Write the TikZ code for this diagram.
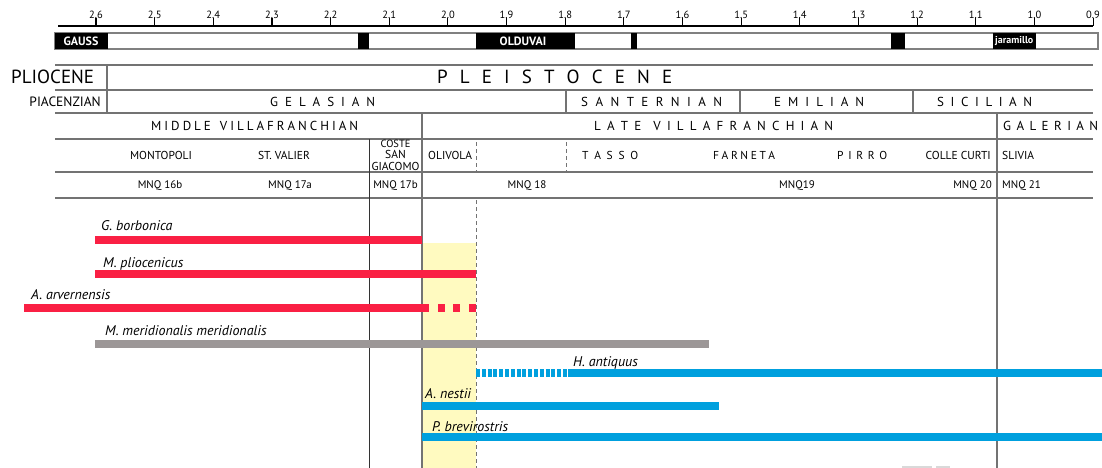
\documentclass[tikz,border=0pt]{standalone}
\usepackage{fontspec}
\setmainfont{PT Sans}
\definecolor{redbar}{RGB}{250,32,68}
\definecolor{bluebar}{RGB}{0,160,222}
\definecolor{greybar}{RGB}{156,151,151}
\definecolor{band}{RGB}{255,250,192}
\definecolor{rulecol}{RGB}{115,115,115}
% letters spread evenly over a fixed width
\newcommand\tracked[2]{\makebox[#1][s]{#2}}
\newcommand\fs[1]{\fontsize{#1}{#1}\selectfont}
\begin{document}
\begin{tikzpicture}[x=1pt,y=-1pt,
  rule/.style={draw=rulecol,line width=1.2pt},
  thinrule/.style={draw=black!80,line width=0.8pt},
  dashrule/.style={draw=rulecol,line width=1pt,dash pattern=on 4pt off 3pt},
  chron/.style={fill=black,draw=none},
  chronlab/.style={text=white,font=\bfseries\fs{12},inner sep=0pt},
  tick/.style={font=\fs{10.5},inner sep=0pt,anchor=south},
  bigcap/.style={font=\fs{19},inner sep=0pt},
  stage/.style={font=\fs{13},inner sep=0pt,anchor=west},
  cell/.style={font=\fs{11.5},inner sep=0pt},
  zone/.style={font=\fs{11},inner sep=0pt},
  bar/.style={line width=7.5pt},
  taxon/.style={font=\itshape\fs{14},inner sep=0pt,anchor=base west}]
\useasboundingbox (0,0) rectangle (1102,468);

% ---- age axis (Ma)
\coordinate (axL) at (58,26);
\coordinate (axR) at (1093,26);
\draw[line width=1.2pt] (axL) -- (axR);
\foreach \i/\lab in {0/2.6,1/2.5,2/2.4,3/2.3,4/2.2,5/2.1,6/2.0,7/1.9,8/1.8,9/1.7,10/1.6,11/1.5,12/1.4,13/1.3,14/1.2,15/1.1,16/1.0,17/0.9}{
  \pgfmathsetmacro\xx{96+58.65*\i}
  \draw[line width=1.1pt] (\xx,26) -- (\xx,18);
  \node[tick] (t\i) at (\xx,19) {\lab};
}

% ---- magnetostratigraphy
\draw[draw=black!50,line width=1.5pt,fill=white] (55,33) rectangle (1098,49);
\fill[chron] (55,33) rectangle (108,49);
\fill[chron] (358,33) rectangle (369,49);
\fill[chron] (476,33) rectangle (575,49);
\fill[chron] (631,33) rectangle (637,49);
\fill[chron] (891,33) rectangle (905,49);
\fill[chron] (993,33) rectangle (1036,49);
\node[chronlab] (gauss) at (81,41) {GAUSS};
\node[chronlab] (olduvai) at (523,41) {OLDUVAI};
\node[chronlab,font=\bfseries\fs{10},anchor=west] (jaramillo) at (995,41) {jaramillo};

% ---- chronostratigraphic table
\foreach \yy in {65,90,113,139,172,198}{
  \draw[rule] (55,\yy) -- (1093,\yy);
}
\draw[rule] (107,65) -- (107,113);
\draw[rule] (566,90) -- (566,113);
\draw[rule] (740,90) -- (740,113);
\draw[rule] (913,90) -- (913,113);
\draw[dashrule] (476,142) -- (476,172);
\draw[dashrule] (566,142) -- (566,172);

% yellow interval
\fill[band] (422,243) rectangle (476,468);

% long verticals
\draw[thinrule] (369,139) -- (369,468);
\draw[rule] (422,113) -- (422,468);
\draw[rule] (997,113) -- (997,468);
\draw[dashrule] (476,200) -- (476,468);

% epochs and stages
\node[bigcap,anchor=west] (plio) at (11,77) {PLIOCENE};
\node[bigcap,anchor=west] (pleisto) at (437,77) {\tracked{235pt}{P L E I S T O C E N E}};
\node[font=\fs{13.5},inner sep=0pt,anchor=east] (piac) at (101,102) {PIACENZIAN};
\node[stage] (gel) at (270,102) {\tracked{105pt}{G E L A S I A N}};
\node[stage] (sant) at (581,102) {\tracked{141pt}{S A N T E R N I A N}};
\node[stage] (emil) at (774,102) {\tracked{90pt}{E M I L I A N}};
\node[stage] (sicil) at (937,102) {\tracked{95pt}{S I C I L I A N}};
\node[stage] (mvil) at (151,126) {\tracked{207pt}{M I D D L E\hspace{6pt} V I L L A F R A N C H I A N}};
\node[stage] (lvil) at (594,126) {\tracked{239pt}{L A T E\hspace{6pt} V I L L A F R A N C H I A N}};
\node[stage] (galer) at (1003,126) {\tracked{95pt}{G A L E R I A N}};

% faunal units
\node[cell] (montopoli) at (161,155) {MONTOPOLI};
\node[cell] (stvalier) at (284,155) {ST. VALIER};
\node[cell,align=center] (coste) at (395.5,155)
  {\fontsize{10.5}{9.8}\selectfont COSTE\\SAN\\GIACOMO};
\node[cell,anchor=west] (olivola) at (428,155) {OLIVOLA};
\node[cell,anchor=west] (tasso) at (582,155) {\tracked{56pt}{T A S S O}};
\node[cell,anchor=west] (farneta) at (713,155) {\tracked{62pt}{F A R N E T A}};
\node[cell,anchor=west] (pirro) at (837,155) {\tracked{50pt}{P I R R O}};
\node[cell,anchor=east] (collecurti) at (991,155) {COLLE CURTI};
\node[cell,anchor=west] (slivia) at (1002,155) {SLIVIA};

% MNQ zones
\node[zone] (mnq16b) at (160,186) {MNQ 16b};
\node[zone] (mnq17a) at (290,186) {MNQ 17a};
\node[zone] (mnq17b) at (395.5,186) {MNQ 17b};
\node[zone] (mnq18) at (527,186) {MNQ 18};
\node[zone] (mnq19) at (797,186) {MNQ19};
\node[zone,anchor=east] (mnq20) at (992,186) {MNQ 20};
\node[zone,anchor=west] (mnq21) at (1002,186) {MNQ 21};

% ---- taxon ranges
\node[taxon] (gbor) at (101,230) {G. borbonica};
\draw[bar,redbar] (95,240) -- (422,240);

\node[taxon] (mplio) at (103,267) {M. pliocenicus};
\draw[bar,redbar] (95,274) -- (476,274);

\node[taxon] (aarv) at (31,299) {A. arvernensis};
\draw[bar,redbar] (24,308) -- (429,308);
\draw[bar,redbar] (438,308) -- (445,308);
\draw[bar,redbar] (453,308) -- (460,308);
\draw[bar,redbar] (469,308) -- (476,308);

\node[taxon] (mmer) at (105,335) {M. meridionalis meridionalis};
\draw[bar,greybar] (95,344) -- (709,344);

\node[taxon] (hant) at (573,366) {H. antiquus};
\draw[bar,bluebar,dash pattern=on 4pt off 1.8pt] (476,373) -- (568,373);
\draw[bar,bluebar] (568,373) -- (1102,373);

\node[taxon] (anes) at (425,398) {A. nestii};
\draw[bar,bluebar] (422,406) -- (719,406);

\node[taxon] (pbre) at (432,431) {P. brevirostris};
\draw[bar,bluebar] (422,437) -- (1102,437);

% faint marks at the lower edge
\fill[black!15] (902,465.5) rectangle (932,468);
\fill[black!15] (936,465.5) rectangle (950,468);
\end{tikzpicture}
\end{document}
